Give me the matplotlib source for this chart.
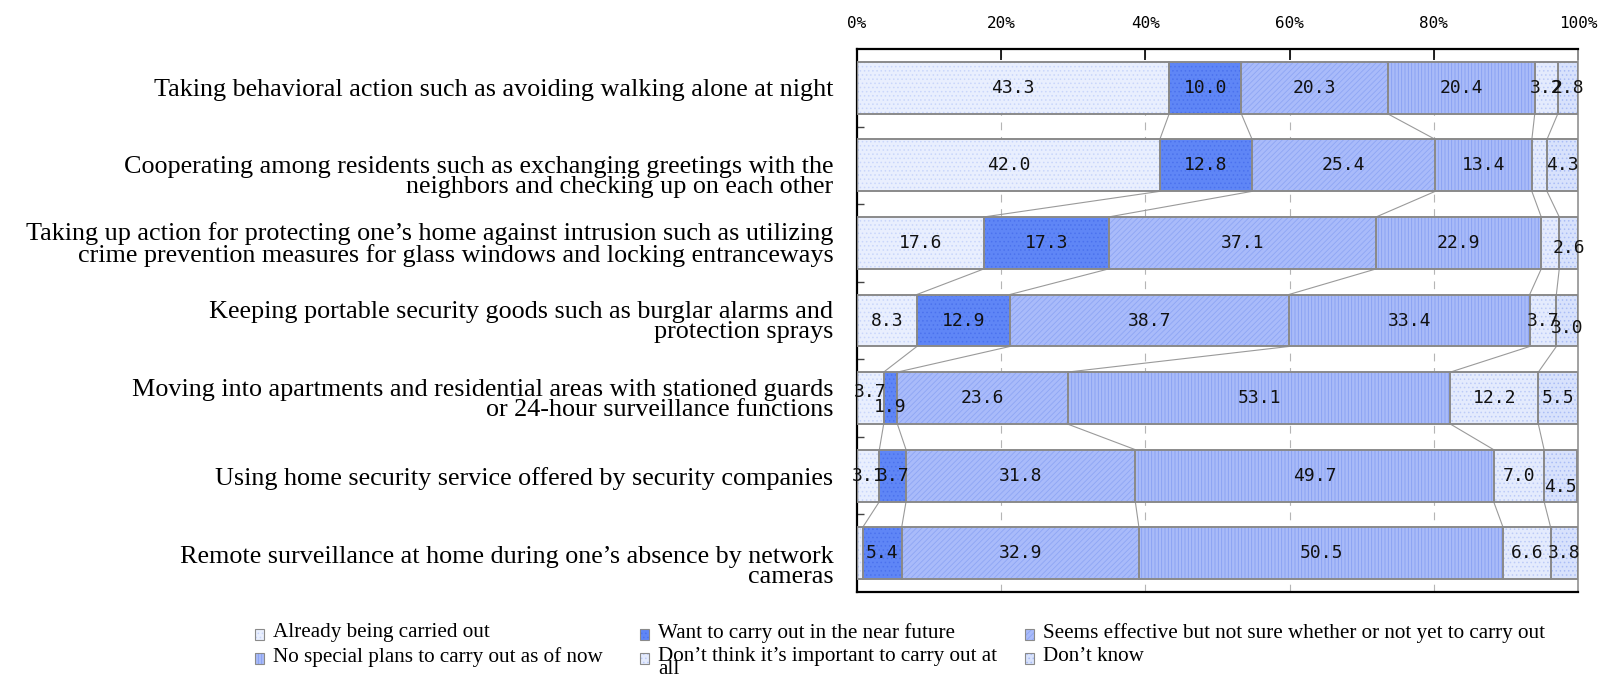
import matplotlib
matplotlib.use("Agg")
import matplotlib.pyplot as plt
from matplotlib.patches import Rectangle
from matplotlib.transforms import ScaledTranslation
import numpy as np

categories = [
    "Taking behavioral action such as avoiding walking alone at night",
    "Cooperating among residents such as exchanging greetings with the\nneighbors and checking up on each other",
    "Taking up action for protecting one\u2019s home against intrusion such as utilizing\ncrime prevention measures for glass windows and locking entranceways",
    "Keeping portable security goods such as burglar alarms and\nprotection sprays",
    "Moving into apartments and residential areas with stationed guards\nor 24-hour surveillance functions",
    "Using home security service offered by security companies",
    "Remote surveillance at home during one\u2019s absence by network\ncameras",
]
series_names = [
    "Already being carried out",
    "Want to carry out in the near future",
    "Seems effective but not sure whether or not yet to carry out",
    "No special plans to carry out as of now",
    "Don\u2019t think it\u2019s important to carry out at\nall",
    "Don\u2019t know",
]
already = [43.3, 42.0, 17.6, 8.3, 3.7, 3.1, 0.8]
want = [10.0, 12.8, 17.3, 12.9, 1.9, 3.7, 5.4]
seems = [20.3, 25.4, 37.1, 38.7, 23.6, 31.8, 32.9]
noplan = [20.4, 13.4, 22.9, 33.4, 53.1, 49.7, 50.5]
dontthink = [3.2, 2.1, 2.5, 3.7, 12.2, 7.0, 6.6]
dontknow = [2.8, 4.3, 2.6, 3.0, 5.5, 4.5, 3.8]
x_ticks = [0, 20, 40, 60, 80, 100]

series = [already, want, seems, noplan, dontthink, dontknow]

faces = ['#e9effe', '#5f86f6', '#a9bbfa', '#a9bbf8', '#e4ebfd', '#d8e2fc']
hatchcols = ['#c9d6fb', '#4b72ee', '#8ea6f4', '#869ff2', '#bccbf7', '#aabdf6']
hatches = ['....', '....', '//////', '|||||', '....', '....']

# label display tweaks (row, series): vertical offset; hidden labels
hidden = {(1, 4), (2, 4), (6, 0)}
dy = {(2, 5): 0.07, (3, 5): 0.1, (4, 0): -0.08, (4, 1): 0.12, (5, 5): 0.15}
label_dy_px = {1: 10, 6: 12}

plt.rcParams['hatch.linewidth'] = 0.6
fig = plt.figure(figsize=(16, 6.79), dpi=100)
ax = fig.add_axes([857 / 1600, 1 - 592 / 679, (1578 - 857) / 1600, (592 - 49) / 679])

n = len(categories)
rows = np.arange(n)
H = 0.67
data = np.array(series)  # (6, n)
cum = np.vstack([np.zeros(n), np.cumsum(data, axis=0)])

# connector lines
for r in range(n - 1):
    for j in range(1, len(series)):
        ax.plot([cum[j, r], cum[j, r + 1]], [r + H / 2, r + 1 - H / 2],
                color='#9a9a9a', lw=0.8, zorder=1)

for j, vals in enumerate(series):
    ax.barh(rows, vals, left=cum[j], height=H, color=faces[j],
            edgecolor=hatchcols[j], lw=0, hatch=hatches[j], zorder=2)
    ax.barh(rows, vals, left=cum[j], height=H, fill=False,
            edgecolor='#8a8a8a', lw=1.4, zorder=3)
    for r in range(n):
        if (r, j) in hidden:
            continue
        ax.text(cum[j, r] + vals[r] / 2, r + dy.get((r, j), 0.0), f"{vals[r]:.1f}",
                ha='center', va='center', fontsize=13,
                family=['DejaVu Sans Mono'], color='#111111', zorder=4)

for gx in x_ticks[1:-1]:
    ax.axvline(gx, color='#b5b5b5', lw=0.8, dashes=(7, 6), zorder=0)

ax.set_xlim(0, 100)
ax.set_ylim(n - 0.5, -0.5)
ax.xaxis.tick_top()
ax.set_xticks(x_ticks)
ax.set_xticklabels([f"{t}%" for t in x_ticks], family=['DejaVu Sans Mono'], fontsize=11.5)
ax.tick_params(axis='x', direction='in', length=8, width=1.2, pad=13, color='black')
ax.set_yticks(rows)
ax.set_yticklabels(categories, family=['Liberation Serif', 'DejaVu Serif'],
                   fontsize=18.8, linespacing=0.9, multialignment='right')
ax.tick_params(axis='y', which='major', length=0, pad=17)
for i, lab in enumerate(ax.get_yticklabels()):
    if i in label_dy_px:
        lab.set_transform(lab.get_transform() +
                          ScaledTranslation(0, -label_dy_px[i] / 100, fig.dpi_scale_trans))
ax.set_yticks(rows[:-1] + 0.5, minor=True)
ax.tick_params(axis='y', which='minor', direction='in', length=5, width=1.0, color='#444444')

for s in ['top', 'left', 'bottom']:
    ax.spines[s].set_color('black')
    ax.spines[s].set_linewidth(1.6)
ax.spines['right'].set_color('#9a9a9a')
ax.spines['right'].set_linewidth(1.3)

# legend drawn manually (3 columns x 2 rows)
col_x = [255, 640, 1025]
row_y = [634, 658]
order = [(0, 0), (0, 1), (0, 2), (1, 0), (1, 1), (1, 2)]
for j, (ri, ci) in enumerate(order):
    x0 = col_x[ci]
    y0 = row_y[ri]
    w, h = 9, 11
    fig.patches.append(Rectangle((x0 / 1600, 1 - (y0 + h / 2) / 679), w / 1600, h / 679,
                                 transform=fig.transFigure, facecolor=faces[j],
                                 edgecolor=hatchcols[j], lw=0, hatch=hatches[j]))
    fig.patches.append(Rectangle((x0 / 1600, 1 - (y0 + h / 2) / 679), w / 1600, h / 679,
                                 transform=fig.transFigure, fill=False,
                                 edgecolor='#8a8a8a', lw=0.8))
    fig.text((x0 + 18) / 1600, 1 - (y0 - 11) / 679, series_names[j],
             ha='left', va='top', fontsize=15.2, linespacing=0.6,
             family=['Liberation Serif', 'DejaVu Serif'])

fig.savefig('out.png', dpi=100)
